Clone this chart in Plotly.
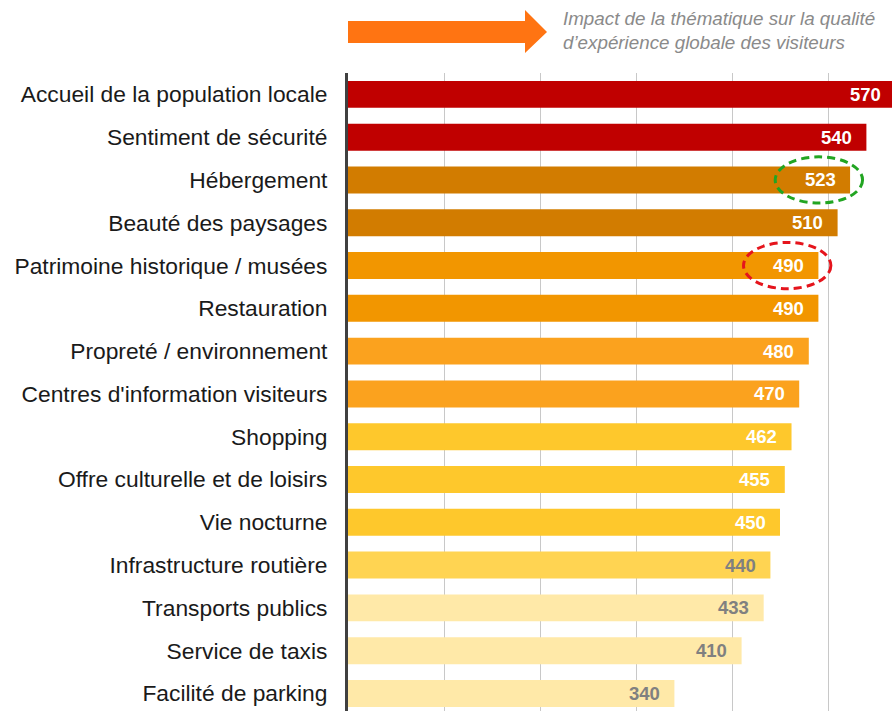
import plotly.graph_objects as go

categories = [
    "Accueil de la population locale",
    "Sentiment de sécurité",
    "Hébergement",
    "Beauté des paysages",
    "Patrimoine historique / musées",
    "Restauration",
    "Propreté / environnement",
    "Centres d'information visiteurs",
    "Shopping",
    "Offre culturelle et de loisirs",
    "Vie nocturne",
    "Infrastructure routière",
    "Transports publics",
    "Service de taxis",
    "Facilité de parking",
]
values = [570, 540, 523, 510, 490, 490, 480, 470, 462, 455, 450, 440, 433, 410, 340]
bar_colors = [
    "#C00000", "#C00000",
    "#D27C00", "#D27C00",
    "#F29600", "#F29600",
    "#FBA21E", "#FBA21E",
    "#FEC82C", "#FEC82C", "#FEC82C",
    "#FFD452",
    "#FFE9A8", "#FFE9A8", "#FFE9A8",
]
label_colors = ["#FFFFFF"] * 11 + ["#808080"] * 4
highlights = {"Hébergement": "#22A522", "Patrimoine historique / musées": "#E5141C"}
note_text = "Impact de la thématique sur la qualité<br>d’expérience globale des visiteurs"

FONT = "Liberation Sans, Arial, sans-serif"
W, H = 892, 711
ML, MT = 348, 73
PX_PER_UNIT = 0.96
XMAX = (W - ML) / PX_PER_UNIT
SLOT = 42.79
YBOTTOM = (H - MT) / SLOT - 0.5

fig = go.Figure()
fig.add_trace(go.Bar(
    x=values, y=categories, orientation="h",
    marker=dict(color=bar_colors, line=dict(width=0)),
    hoverinfo="skip",
))

annotations = []
for c, v, lc in zip(categories, values, label_colors):
    annotations.append(dict(
        x=v - 12.5 / PX_PER_UNIT, y=c, xref="x", yref="y",
        text=str(v), showarrow=False, xanchor="right", yanchor="middle",
        font=dict(family=FONT, size=18.5, color=lc, weight="bold"),
    ))
annotations.append(dict(
    x=(561 - ML) / (W - ML), y=(H - 6) / (H - MT), xref="paper", yref="paper",
    text=note_text, showarrow=False, xanchor="left", yanchor="top", align="left",
    font=dict(family=FONT, size=18.8, color="#8A8A8A", style="italic"),
))

shapes = []
for c, col in highlights.items():
    i = categories.index(c)
    v = values[i]
    cx = v - 32.5
    shapes.append(dict(
        type="circle", xref="x", yref="y",
        x0=cx - 45.5, x1=cx + 45.5, y0=i - 0.54, y1=i + 0.54,
        line=dict(color=col, width=3, dash="8px,5px"), layer="above",
    ))


def px(xp):
    return (xp - ML) / (W - ML)


def py(yp):
    return (H - yp) / (H - MT)


arrow = (f"M {px(348)} {py(21)} L {px(525)} {py(21)} L {px(525)} {py(10)} "
         f"L {px(547)} {py(32)} L {px(525)} {py(53)} L {px(525)} {py(43)} "
         f"L {px(348)} {py(43)} Z")
shapes.append(dict(type="path", xref="paper", yref="paper", path=arrow,
                   fillcolor="#FF7412", line=dict(width=0)))

fig.update_layout(
    width=W, height=H,
    margin=dict(l=ML, r=0, t=MT, b=0, pad=0),
    paper_bgcolor="white", plot_bgcolor="white",
    bargap=0.37, showlegend=False,
    annotations=annotations, shapes=shapes,
    xaxis=dict(range=[0, XMAX], showticklabels=False, showgrid=True,
               gridcolor="#C8C8C8", gridwidth=1, tick0=0, dtick=100,
               zeroline=False, showline=False, fixedrange=True),
    yaxis=dict(categoryorder="array", categoryarray=categories,
               range=[YBOTTOM, -0.5], showgrid=False, zeroline=False,
               showline=True, linecolor="#404040", linewidth=3,
               ticks="", ticklabelstandoff=13, automargin=False,
               tickfont=dict(family=FONT, size=22.8, color="#1A1A1A"),
               fixedrange=True),
)

fig.write_html("out.html")
